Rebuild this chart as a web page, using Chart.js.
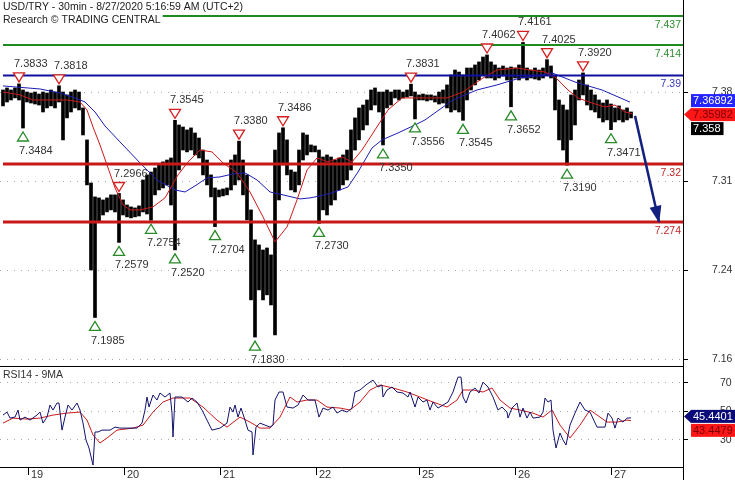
<!DOCTYPE html>
<html>
<head>
<meta charset="utf-8">
<script src="https://cdn.jsdelivr.net/npm/chart.js@4.4.0/dist/chart.umd.min.js"></script>
<style>
  html, body { margin: 0; padding: 0; background: #fff; }
  #wrap { position: relative; width: 735px; height: 480px; overflow: hidden; }
  canvas { position: absolute; left: 0; }
  #price { top: 0; }
  #rsi { top: 366px; }
</style>
</head>
<body>
<div id="wrap">
  <canvas id="price" width="735" height="366"></canvas>
  <canvas id="rsi" width="735" height="114"></canvas>
</div>
<script>
// ── Data (x values are 30-min bar numbers from the left edge) ───────────────
const headerLines = ['USD/TRY - 30min - 8/27/2020 5:16:59 AM (UTC+2)', 'Research \u00a9 TRADING CENTRAL'];
const dayLabels = ['19', '20', '21', '22', '25', '26', '27'];
const dayTickBars = [14, 62, 110, 158, 209.5, 257.5, 305.5];

// hourly high / low, one entry every 2 bars starting at bar 1.5
const firstBar = 1.5;
const barStep = 2;
const priceHigh = [
  7.3785, 7.3801, 7.3785, 7.3801, 7.3833, 7.3785, 7.3769, 7.3761, 7.3769, 7.3753,
  7.3769, 7.3761, 7.3785, 7.3769, 7.3818, 7.3769, 7.3746, 7.3769, 7.3785, 7.3769,
  7.3643, 7.3390, 7.3049, 7.2939, 7.2931, 7.2915, 7.2931, 7.2955, 7.2955, 7.2966,
  7.2915, 7.2875, 7.2860, 7.2852, 7.2868, 7.3073, 7.3113, 7.3136, 7.3168, 7.3192,
  7.3216, 7.3231, 7.3247, 7.3545, 7.3508, 7.3492, 7.3469, 7.3485, 7.3445, 7.3405,
  7.3310, 7.3231, 7.3113, 7.3010, 7.2994, 7.3002, 7.3010, 7.3231, 7.3271, 7.3380,
  7.3231, 7.3113, 7.2836, 7.2599, 7.2559, 7.2519, 7.2535, 7.2480, 7.3310, 7.3445,
  7.3486, 7.3390, 7.3152, 7.3136, 7.3310, 7.3445, 7.3429, 7.3350, 7.3342, 7.3310,
  7.3255, 7.3271, 7.3255, 7.3231, 7.3247, 7.3271, 7.3310, 7.3469, 7.3564, 7.3643,
  7.3666, 7.3706, 7.3785, 7.3801, 7.3769, 7.3769, 7.3785, 7.3769, 7.3785, 7.3785,
  7.3769, 7.3785, 7.3831, 7.3769, 7.3746, 7.3753, 7.3746, 7.3746, 7.3738, 7.3769,
  7.3785, 7.3825, 7.3904, 7.3943, 7.3927, 7.3904, 7.3959, 7.3959, 7.3983, 7.4007,
  7.4046, 7.4062, 7.4007, 7.3983, 7.3959, 7.3975, 7.3959, 7.3967, 7.3959, 7.3983,
  7.4161, 7.3959, 7.3943, 7.3959, 7.3943, 7.3959, 7.4025, 7.3975, 7.3904, 7.3706,
  7.3666, 7.3627, 7.3746, 7.3785, 7.3864, 7.3920, 7.3825, 7.3785, 7.3746, 7.3706,
  7.3682, 7.3706, 7.3674, 7.3643, 7.3659, 7.3627, 7.3643, 7.3611,
];
const priceLow = [
  7.3659, 7.3690, 7.3706, 7.3722, 7.3706, 7.3484, 7.3690, 7.3682, 7.3674, 7.3666,
  7.3611, 7.3643, 7.3659, 7.3643, 7.3690, 7.3390, 7.3564, 7.3611, 7.3643, 7.3627,
  7.3429, 7.3034, 7.2361, 7.1985, 7.2741, 7.2796, 7.2820, 7.2836, 7.2820, 7.2579,
  7.2796, 7.2781, 7.2773, 7.2781, 7.2788, 7.2820, 7.2804, 7.2754, 7.2955, 7.2994,
  7.3010, 7.3034, 7.2875, 7.2520, 7.3152, 7.3310, 7.3295, 7.3310, 7.3271, 7.3247,
  7.3113, 7.3034, 7.2939, 7.2704, 7.2939, 7.2947, 7.2955, 7.2994, 7.3034, 7.3073,
  7.2955, 7.2757, 7.2124, 7.1830, 7.2203, 7.2124, 7.2164, 7.2084, 7.1847, 7.2915,
  7.3192, 7.3113, 7.2994, 7.2978, 7.3034, 7.3231, 7.3271, 7.3295, 7.3295, 7.2730,
  7.2836, 7.2796, 7.2875, 7.2915, 7.2994, 7.3034, 7.3073, 7.3152, 7.3310, 7.3390,
  7.3469, 7.3508, 7.3627, 7.3666, 7.3611, 7.3350, 7.3643, 7.3666, 7.3722, 7.3706,
  7.3722, 7.3730, 7.3738, 7.3556, 7.3706, 7.3706, 7.3698, 7.3706, 7.3690, 7.3674,
  7.3682, 7.3643, 7.3611, 7.3627, 7.3611, 7.3545, 7.3706, 7.3785, 7.3825, 7.3864,
  7.3904, 7.3880, 7.3880, 7.3864, 7.3880, 7.3896, 7.3864, 7.3652, 7.3880, 7.3864,
  7.3880, 7.3864, 7.3880, 7.3872, 7.3864, 7.3880, 7.3904, 7.3880, 7.3627, 7.3390,
  7.3310, 7.3190, 7.3390, 7.3508, 7.3706, 7.3746, 7.3666, 7.3627, 7.3611, 7.3564,
  7.3532, 7.3548, 7.3471, 7.3532, 7.3548, 7.3532, 7.3548, 7.3564,
];

const redMaBars = [1.5, 10, 16.5, 25, 33.5, 40, 43.5, 46.5, 50, 53.5, 57.5, 61.5, 65, 70, 76.5, 82.5, 89, 94, 100, 106,
  111.5, 118.5, 125, 131.5, 137.5, 143.5, 148.5, 153.5, 158.5, 164, 171, 176, 181, 187.5, 194, 201, 212.5, 223.5, 231.5, 241.5,
  248.5, 258.5, 265, 272.5, 277.5, 284, 289, 296, 302.5, 307.5, 312.5, 316];
const redMaValues = [7.3769, 7.3746, 7.3706, 7.3706, 7.3706, 7.3690, 7.3627, 7.3492, 7.3350, 7.3192,
  7.3010, 7.2875, 7.2836, 7.2836, 7.2860, 7.2931, 7.3113, 7.3216, 7.3310, 7.3295,
  7.3208, 7.3129, 7.2978, 7.2781, 7.2583, 7.2701, 7.2915, 7.3152, 7.3247, 7.3216,
  7.3255, 7.3216, 7.3310, 7.3469, 7.3627, 7.3722, 7.3722, 7.3722, 7.3769, 7.3880,
  7.3943, 7.3959, 7.3943, 7.3927, 7.3888, 7.3785, 7.3722, 7.3682, 7.3651, 7.3666,
  7.3611, 7.3598];

const blueMaBars = [1.5, 20, 30, 37.5, 42.5, 47.5, 52.5, 60, 70, 78.5, 87.5, 92.5, 97.5, 103.5, 110, 116.5, 122.5, 128.5, 135, 141.5,
  150, 155, 160, 166, 174, 179, 186, 191, 199, 207.5, 212.5, 226.5, 238.5, 248.5, 260, 265, 276, 287.5, 301, 315];
const blueMaValues = [7.3817, 7.3793, 7.3761, 7.3722, 7.3690, 7.3611, 7.3500, 7.3374, 7.3208, 7.3073,
  7.2994, 7.2978, 7.3026, 7.3089, 7.3097, 7.3121, 7.3129, 7.3073, 7.2978, 7.2955,
  7.2923, 7.2931, 7.2947, 7.2970, 7.3018, 7.3136, 7.3326, 7.3390, 7.3445, 7.3508,
  7.3548, 7.3706, 7.3785, 7.3825, 7.3880, 7.3888, 7.3920, 7.3848, 7.3785, 7.3689];

const levelValues = [7.437, 7.414, 7.39, 7.32, 7.274];
const levelLabels = ['7.437', '7.414', '7.39', '7.32', '7.274'];

const topMarkBars = [9.5, 29.5, 59.5, 87.5, 119.5, 141.5, 205.5, 243.5, 261.5, 273.5, 291.5];
const topMarkValues = [7.3833, 7.3818, 7.2966, 7.3545, 7.3380, 7.3486, 7.3831, 7.4062, 7.4161, 7.4025, 7.3920];
const bottomMarkBars = [11.5, 47.5, 59.5, 75.5, 87.5, 107.5, 127.5, 159.5, 191.5, 207.5, 231.5, 255.5, 283.5, 305.5];
const bottomMarkValues = [7.3484, 7.1985, 7.2579, 7.2754, 7.2520, 7.2704, 7.1830, 7.2730, 7.3350, 7.3556, 7.3545, 7.3652, 7.3190, 7.3471];

const forecastBars = [317.5, 329.5];
const forecastValues = [7.358, 7.274];

const priceTickValues = [7.3768, 7.3062, 7.2358, 7.1654];
const priceTickLabels = ['7.38', '7.31', '7.24', '7.16'];

const lastBlueMa = 7.36892;
const lastRedMa = 7.35982;
const lastClose = 7.358;

const rsiBars = [1.5, 3.5, 5, 7.5, 9, 10, 12.5, 15, 18.5, 20, 21.5, 23.5, 25, 26.5, 28.5, 29.5, 31, 32.5, 34, 36,
  38.5, 40, 41.5, 43, 44.5, 46.5, 47.5, 49, 51, 55, 57.5, 60, 63.5, 68.5, 71, 72.5, 73.5, 74.5, 76.5, 78.5,
  80, 82.5, 85, 86, 86.5, 87.5, 91, 94, 96, 98.5, 101, 103.5, 106, 110, 113.5, 115, 116.5, 117.5, 119, 120.5,
  122.5, 124, 126, 126.5, 128, 130, 132.5, 135, 136.5, 137.5, 139.5, 141.5, 143.5, 146.5, 149, 151.5, 154, 157.5, 159.5, 161.5,
  164, 166.5, 168.5, 171, 173.5, 176, 177.5, 180, 183.5, 186.5, 189, 191, 191.5, 193.5, 196, 198.5, 201.5, 204, 205, 207.5,
  209, 211.5, 213.5, 215, 216.5, 219, 221.5, 224, 226.5, 229, 230.5, 231.5, 233, 235, 237.5, 239.5, 241.5, 244, 246.5, 249,
  251, 253.5, 254, 256, 258.5, 260, 261.5, 263.5, 265, 266.5, 270, 271.5, 272.5, 274, 275.5, 276.5, 278, 280, 281.5, 283,
  285, 287.5, 290, 292.5, 295, 298.5, 302.5, 304, 306, 307.5, 309, 311.5, 313.5, 315.5];
const rsiValues = [47.4, 49.5, 45.3, 46.0, 50.9, 43.9, 46.0, 43.9, 47.4, 49.5, 41.8, 46.0, 54.4, 50.9, 55.8, 55.8, 36.9, 46.0, 54.4, 50.9,
  55.8, 50.9, 41.8, 30.0, 24.4, 12.5, 35.6, 35.6, 36.9, 36.9, 39.0, 38.3, 38.3, 38.3, 41.8, 50.9, 60.0, 53.0, 61.4, 57.9,
  62.8, 60.0, 62.8, 48.8, 32.1, 60.0, 60.0, 56.5, 59.3, 56.5, 50.9, 43.9, 36.9, 38.3, 41.8, 53.0, 49.5, 54.4, 46.0, 52.3,
  43.9, 36.9, 35.6, 19.5, 39.0, 41.8, 40.4, 39.0, 40.4, 57.9, 63.5, 63.5, 53.0, 52.3, 54.4, 61.4, 57.9, 57.9, 46.0, 52.3,
  50.9, 53.0, 48.8, 50.9, 49.5, 52.3, 63.5, 64.9, 69.0, 71.8, 67.0, 68.4, 60.0, 64.9, 67.0, 63.5, 62.8, 60.0, 63.5, 53.0,
  60.0, 56.5, 57.9, 50.9, 56.5, 52.3, 54.4, 56.5, 63.5, 73.9, 73.9, 60.0, 55.8, 63.5, 66.3, 62.8, 70.4, 67.0, 60.0, 50.9,
  53.0, 49.5, 45.3, 52.3, 55.8, 46.0, 52.3, 45.3, 49.5, 45.3, 46.0, 49.5, 59.3, 56.5, 57.9, 36.9, 24.4, 34.9, 30.0, 26.5,
  40.4, 48.8, 56.5, 50.9, 49.5, 39.0, 39.0, 48.8, 45.3, 38.3, 45.3, 42.5, 45.3, 45.44];

const rsiMaBars = [1.5, 6.5, 13.5, 20, 26.5, 33.5, 40, 43.5, 46.5, 50, 53.5, 58.5, 66.5, 71.5, 76.5, 81.5, 86.5, 95, 101.5, 108.5,
  113.5, 120, 125, 130, 135, 140, 145, 148.5, 153.5, 158.5, 163.5, 170, 175, 180, 185, 190, 196.5, 203.5, 210, 216.5,
  223.5, 228.5, 231.5, 236.5, 241.5, 246, 250, 255, 260, 266.5, 271.5, 276, 280, 285, 290, 295, 300, 303.5, 308.5, 313.5, 315.5];
const rsiMaValues = [41.8, 45.3, 44.6, 45.3, 47.4, 48.8, 49.5, 43.9, 33.5, 27.9, 31.4, 36.9, 38.3, 40.4, 49.5, 56.5, 59.3, 59.3, 53.0, 43.9,
  39.0, 46.0, 42.5, 38.3, 38.3, 46.0, 60.0, 56.5, 57.9, 57.9, 53.0, 52.3, 50.9, 56.5, 64.9, 68.4, 66.3, 63.5, 60.0, 56.5,
  53.0, 57.9, 64.9, 64.9, 63.5, 66.3, 57.9, 52.3, 50.9, 48.8, 46.0, 50.9, 40.4, 31.4, 40.4, 50.9, 46.0, 42.5, 42.5, 43.9, 43.45];

const rsiTickValues = [70, 50, 30];
const rsiTickLabels = ['70', '50', '30'];
const lastRsi = 45.4401;
const lastRsiMa = 43.4479;

// ── Look ─────────────────────────────────────────────────────────────────────
const FONT = "'Liberation Sans', Arial, sans-serif";
Chart.defaults.font.family = FONT;
Chart.defaults.font.size = 11;
Chart.defaults.color = '#333';
Chart.defaults.animation = false;
Chart.defaults.events = [];
Chart.defaults.plugins.legend.display = false;
Chart.defaults.plugins.tooltip.enabled = false;

const X_MIN = 0, X_MAX = 341.5;
const PRICE_TOP = 7.4497, PRICE_BOTTOM = 7.1601;
const RSI_TOP = 80.96, RSI_BOTTOM = 11.15;

const levelColors = ['#1f8a1f', '#1f8a1f', '#10109e', '#c81818', '#c81818'];
const levelTextColors = ['#2b8c2b', '#2b8c2b', '#3535c0', '#c42424', '#c42424'];
const levelWidths = [2, 2, 2, 3, 3];
const ARROW = '#13207f';

const pts = (xs, ys) => xs.map((x, i) => ({ x, y: ys[i] }));

function lineSet(xs, ys, color, width, order) {
  return { type: 'line', data: pts(xs, ys), borderColor: color, borderWidth: width,
    pointRadius: 0, tension: 0, fill: false, order };
}

function rightAxis(min, max, values, labels, pad) {
  return {
    position: 'right', min, max, beginAtZero: false,
    afterBuildTicks: s => { s.ticks = values.map(value => ({ value })); },
    afterFit: s => { s.width = 52; s.paddingTop = 0; s.paddingBottom = 0; },
    ticks: { callback: (v, i) => labels[i], padding: pad, color: '#333', font: { size: 10.5 } },
    grid: { color: '#a8a8a8', tickColor: '#000', tickLength: 5, tickBorderDash: [] },
    border: { display: false, dash: [1, 6] },
  };
}

function triangle(ctx, px, baseY, tipY, color) {
  ctx.beginPath();
  ctx.moveTo(px - 5.5, baseY);
  ctx.lineTo(px + 5.5, baseY);
  ctx.lineTo(px, tipY);
  ctx.closePath();
  ctx.fillStyle = '#fff';
  ctx.fill();
  ctx.strokeStyle = color;
  ctx.stroke();
}

// value tags on the right axis, pushed down when they overlap
function drawTags(chart, scale, tags) {
  const { ctx, chartArea: a } = chart;
  ctx.save();
  ctx.font = `11px ${FONT}`;
  ctx.textAlign = 'left';
  ctx.textBaseline = 'middle';
  let floor = -Infinity;
  tags.forEach(t => {
    const h = 13, left = a.right + 8, text = String(t.value);
    let top = scale.getPixelForValue(t.value) - 8;
    if (top < floor) top = floor;
    const w = t.fit ? ctx.measureText(text).width + 5 : chart.width - left;
    ctx.fillStyle = t.bg;
    ctx.fillRect(left, top, w, h);
    if (t.pointer) {
      ctx.beginPath();
      ctx.moveTo(a.right + 1, top + h / 2);
      ctx.lineTo(left, top);
      ctx.lineTo(left, top + h);
      ctx.closePath();
      ctx.fill();
    }
    ctx.fillStyle = t.fg;
    ctx.fillText(text, left + 2, top + h / 2 + 0.5);
    floor = top + h + 1;
  });
  ctx.restore();
}

// ── Price panel ──────────────────────────────────────────────────────────────
const priceOverlay = {
  id: 'priceOverlay',
  afterDatasetsDraw(chart) {
    const { ctx, chartArea: a, scales: { x, y } } = chart;
    ctx.save();

    ctx.font = `10.5px ${FONT}`;
    ctx.textAlign = 'right';
    ctx.textBaseline = 'middle';
    levelValues.forEach((v, i) => {
      ctx.fillStyle = levelTextColors[i];
      ctx.fillText(levelLabels[i], a.right - 2, y.getPixelForValue(v) + 9);
    });

    // forecast arrow head
    const x0 = x.getPixelForValue(forecastBars[0]), y0 = y.getPixelForValue(forecastValues[0]);
    const x1 = x.getPixelForValue(forecastBars[1]), y1 = y.getPixelForValue(forecastValues[1]);
    ctx.save();
    ctx.translate(x1, y1);
    ctx.rotate(Math.atan2(y1 - y0, x1 - x0));
    ctx.fillStyle = ARROW;
    ctx.beginPath();
    ctx.moveTo(1, 0);
    ctx.lineTo(-16, -6);
    ctx.lineTo(-16, 6);
    ctx.closePath();
    ctx.fill();
    ctx.restore();

    // swing highs / lows
    ctx.font = `11px ${FONT}`;
    ctx.textAlign = 'left';
    ctx.lineWidth = 1.3;
    topMarkBars.forEach((b, i) => {
      const px = x.getPixelForValue(b), py = y.getPixelForValue(topMarkValues[i]);
      triangle(ctx, px, py - 11, py - 2, '#d42020');
      ctx.fillStyle = '#333';
      ctx.fillText(topMarkValues[i].toFixed(4), px - 5, py - 20);
    });
    bottomMarkBars.forEach((b, i) => {
      const px = x.getPixelForValue(b), py = y.getPixelForValue(bottomMarkValues[i]);
      triangle(ctx, px, py + 13, py + 4, '#2a8a2a');
      ctx.fillStyle = '#333';
      ctx.fillText(bottomMarkValues[i].toFixed(4), px - 4, py + 23);
    });

    // header
    ctx.font = `10.5px ${FONT}`;
    headerLines.forEach((t, i) => {
      const w = ctx.measureText(t).width;
      ctx.fillStyle = '#fff';
      ctx.fillRect(0, 1 + i * 13, w + 5, 13);
      ctx.fillStyle = '#222';
      ctx.fillText(t, 3, 7.5 + i * 13);
    });
    ctx.restore();
  },
  afterDraw(chart) {
    const { ctx, chartArea: a, scales: { y } } = chart;
    ctx.save();
    ctx.strokeStyle = '#000';
    ctx.lineWidth = 1;
    ctx.beginPath();
    ctx.moveTo(a.right + 0.5, 0);
    ctx.lineTo(a.right + 0.5, chart.height);
    ctx.stroke();
    ctx.restore();
    drawTags(chart, y, [
      { value: lastBlueMa, bg: '#2424ff', fg: '#fff' },
      { value: lastRedMa, bg: '#ff1616', fg: '#7a0000', pointer: true },
      { value: lastClose, bg: '#000', fg: '#fff', fit: true },
    ]);
  },
};

new Chart(document.getElementById('price'), {
  type: 'bar',
  data: {
    datasets: [
      {
        type: 'bar',
        data: priceHigh.map((h, i) => ({ x: firstBar + barStep * i, y: [priceLow[i], h] })),
        backgroundColor: '#000',
        borderWidth: 0,
        barThickness: 3,
        order: 10,
      },
      lineSet(blueMaBars, blueMaValues, '#1c1cb4', 1, 6),
      lineSet(redMaBars, redMaValues, '#d01818', 1, 5),
      ...levelValues.map((v, i) => lineSet([firstBar, X_MAX], [v, v], levelColors[i], levelWidths[i], 3)),
      lineSet(forecastBars, forecastValues, ARROW, 2.5, 1),
    ],
  },
  options: {
    responsive: false,
    devicePixelRatio: 1,
    layout: { padding: 0 },
    scales: {
      x: { type: 'linear', min: X_MIN, max: X_MAX, offset: false, display: false },
      y: rightAxis(PRICE_BOTTOM, PRICE_TOP, priceTickValues, priceTickLabels, 24),
    },
  },
  plugins: [priceOverlay],
});

// ── RSI panel ────────────────────────────────────────────────────────────────
const rsiOverlay = {
  id: 'rsiOverlay',
  afterDraw(chart) {
    const { ctx, chartArea: a, scales: { y } } = chart;
    ctx.save();
    ctx.strokeStyle = '#000';
    ctx.lineWidth = 1;
    ctx.beginPath();
    ctx.moveTo(0, 0.5); ctx.lineTo(a.right, 0.5);
    ctx.moveTo(0, a.bottom + 0.5); ctx.lineTo(a.right, a.bottom + 0.5);
    ctx.moveTo(a.right + 0.5, 0); ctx.lineTo(a.right + 0.5, chart.height);
    ctx.stroke();
    ctx.font = `10.5px ${FONT}`;
    ctx.textAlign = 'left';
    ctx.textBaseline = 'middle';
    ctx.fillStyle = '#333';
    ctx.fillText('RSI14 - 9MA', 3, a.top + 8);
    ctx.restore();
    drawTags(chart, y, [
      { value: lastRsi, bg: '#0a0a78', fg: '#fff', pointer: true },
      { value: lastRsiMa, bg: '#ff1616', fg: '#7a0000' },
    ]);
  },
};

new Chart(document.getElementById('rsi'), {
  type: 'line',
  data: {
    datasets: [
      lineSet(rsiMaBars, rsiMaValues, '#cc1a1a', 1, 2),
      lineSet(rsiBars, rsiValues, '#12126e', 1, 1),
    ],
  },
  options: {
    responsive: false,
    devicePixelRatio: 1,
    layout: { padding: { top: 1, left: 0, right: 0, bottom: 0 } },
    scales: {
      x: {
        type: 'linear', min: X_MIN, max: X_MAX, offset: false, position: 'bottom',
        afterBuildTicks: s => { s.ticks = dayTickBars.map(value => ({ value })); },
        afterFit: s => { s.height = 13; s.paddingLeft = 0; s.paddingRight = 0; },
        ticks: { callback: (v, i) => dayLabels[i], align: 'start', labelOffset: 3, padding: -7,
          maxRotation: 0, minRotation: 0, autoSkip: false, color: '#333', font: { size: 11 } },
        grid: { drawOnChartArea: false, tickLength: 8, tickColor: '#000', color: '#000' },
        border: { display: false },
      },
      y: rightAxis(RSI_BOTTOM, RSI_TOP, rsiTickValues, rsiTickLabels, 32),
    },
  },
  plugins: [rsiOverlay],
});
</script>
</body>
</html>
